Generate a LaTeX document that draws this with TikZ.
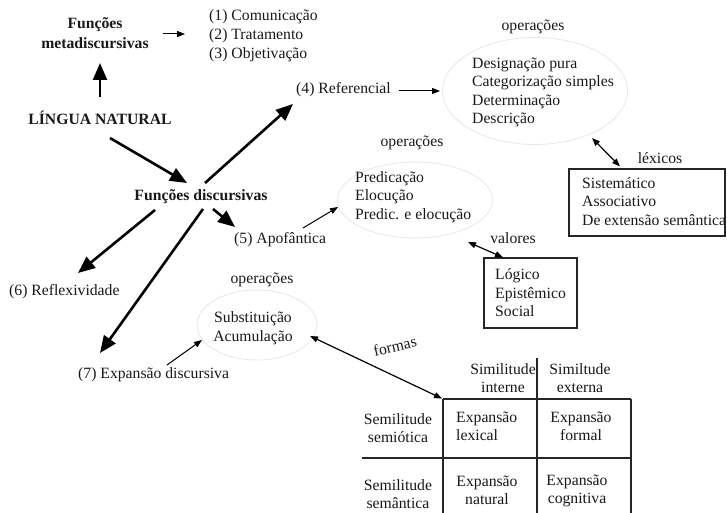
\documentclass[tikz,border=0pt]{standalone}
\usepackage{fontspec}
\setmainfont{Liberation Serif}
\usetikzlibrary{arrows.meta,calc,shapes.geometric}
\begin{document}
\begin{tikzpicture}[x=1pt,y=-1pt,
  every node/.style={inner sep=0pt},
  txt/.style={font=\fontsize{15.7}{18.5}\selectfont, text=black!90},
  bld/.style={font=\fontsize{15.7}{20}\selectfont\bfseries, text=black!90},
  ell/.style={ellipse, draw=black!10, line width=0.7pt},
  boxn/.style={draw=black!85, line width=1.1pt},
  tbl/.style={draw=black!85, line width=1.1pt},
  bigarrow/.style={draw=black, line width=2.6pt, -{Triangle[length=17pt,width=14pt]}},
  thinarrow/.style={draw=black, line width=1pt, -{Triangle[length=8pt,width=6pt]}},
  dblarrow/.style={draw=black, line width=1.2pt, {Triangle[length=8pt,width=6pt]}-{Triangle[length=8pt,width=6pt]}}
]
\useasboundingbox[fill=white] (0,0) rectangle (727,513);

% main text nodes
\node[bld, align=center] (fm) at (95,33) {Funções\\metadiscursivas};
\node[txt, align=left, anchor=west, font=\fontsize{15.7}{19}\selectfont] (lst) at (209,36) {(1) Comunicação\\(2) Tratamento\\(3) Objetivação};
\node[bld] (ln) at (100,118) {LÍNGUA NATURAL};
\node[bld] (fd) at (201,197) {Funções discursivas};
\node[txt, anchor=west] (r4) at (296,90) {(4) Referencial};
\node[txt, anchor=west] (r5) at (234,240) {(5) Apofântica};
\node[txt, anchor=west] (r6) at (9,292) {(6) Reflexividade};
\node[txt, anchor=west] (r7) at (78,375) {(7) Expansão discursiva};

% ellipses of operations
\node[ell, minimum width=185pt, minimum height=107pt] (e1) at (535,91) {};
\node[txt, align=left] (t1) at (543,92.5) {Designação pura\\Categorização simples\\Determinação\\Descrição};
\node[txt] (o1) at (533,27) {operações};

\node[ell, minimum width=155pt, minimum height=76pt] (e2) at (415,200) {};
\node[txt, align=left, anchor=west] (t2) at (355,197) {Predicação\\Elocução\\Predic. e elocução};
\node[txt] (o2) at (412,143) {operações};

\node[ell, minimum width=120pt, minimum height=70pt] (e3) at (257,325) {};
\node[txt, align=center] (t3) at (253,328) {Substituição\\Acumulação};
\node[txt] (o3) at (262,280) {operações};

% boxes
\node[boxn, minimum width=93pt, minimum height=70pt] (b1) at (530.5,293) {};
\node[txt, align=left, anchor=west] (t4) at (495,293) {Lógico\\Epistêmico\\Social};
\node[txt] (val) at (513,238) {valores};

\node[boxn, minimum width=156pt, minimum height=67pt] (b2) at (647,202.5) {};
\node[txt, align=left, anchor=west] (t5) at (582,201.5) {Sistemático\\Associativo\\De extensão semântica};
\node[txt] (lex) at (660,158) {léxicos};

% table
\coordinate (tc) at (443,399);
\draw[tbl] (537,358) -- (537,513);
\draw[tbl] (tc) -- (631,399);
\draw[tbl] (tc) -- (443,513);
\draw[tbl] (631,399) -- (631,513);
\draw[tbl] (362,458) -- (631,458);
\node[txt, align=center, font=\fontsize{15.7}{18}\selectfont] (h1) at (503,378) {Similitude\\interne};
\node[txt, align=center, font=\fontsize{15.7}{18}\selectfont] (h2) at (580,378) {Similtude\\externa};
\node[txt, align=center, font=\fontsize{15.7}{18}\selectfont] (s1) at (398,428) {Semilitude\\semiótica};
\node[txt, align=center, font=\fontsize{15.7}{18}\selectfont] (s2) at (398,494) {Semilitude\\semântica};
\node[txt, align=left, anchor=west, font=\fontsize{15.7}{18}\selectfont] (c11) at (456,426.5) {Expansão\\lexical};
\node[txt, align=center, font=\fontsize{15.7}{18}\selectfont] (c12) at (581,426.5) {Expansão\\formal};
\node[txt, align=center, font=\fontsize{15.7}{18}\selectfont] (c21) at (487,490.5) {Expansão\\natural};
\node[txt, align=center, font=\fontsize{15.7}{18}\selectfont] (c22) at (577,491) {Expansão\\cognitiva};
\node[txt, rotate=13] (fo) at (395,346) {formas};

% connectors
\draw[bigarrow] ($(ln.center)+(0,-21)$) -- ($(fm.center)+(5,30)$);
\draw[thinarrow] ($(fm.center)+(68,1)$) -- ($(lst.west)+(-24,-2)$);
\draw[bigarrow] ($(ln.center)+(10,20)$) -- ($(fd.center)+(-14,-14)$);
\draw[bigarrow] ($(fd.center)+(4,-14)$) -- ($(r4.west)+(-3,14)$);
\draw[bigarrow] ($(fd.center)+(12,12)$) -- ($(r5.west)+(1,-13)$);
\draw[bigarrow] ($(fd.center)+(-46,13)$) -- ($(r6.west)+(69,-19)$);
\draw[bigarrow] ($(fd.center)+(2,12)$) -- ($(r7.west)+(22,-22)$);
\draw[thinarrow] ($(r4.east)+(8,1)$) -- ($(e1.center)+(-95,0)$);
\draw[thinarrow] ($(r5.west)+(69,-12)$) -- ($(e2.center)+(-77,7)$);
\draw[thinarrow] ($(r7.west)+(89,-10)$) -- ($(e3.center)+(-55,15)$);
\draw[dblarrow] ($(e1.center)+(57,47)$) -- ($(b2.north)+(-27,-2)$);
\draw[dblarrow] ($(e2.center)+(53,42)$) -- ($(b1.north)+(-27.5,0)$);
\draw[dblarrow, shorten >=1pt] ($(e3.center)+(53,11)$) -- (tc);
\end{tikzpicture}
\end{document}
